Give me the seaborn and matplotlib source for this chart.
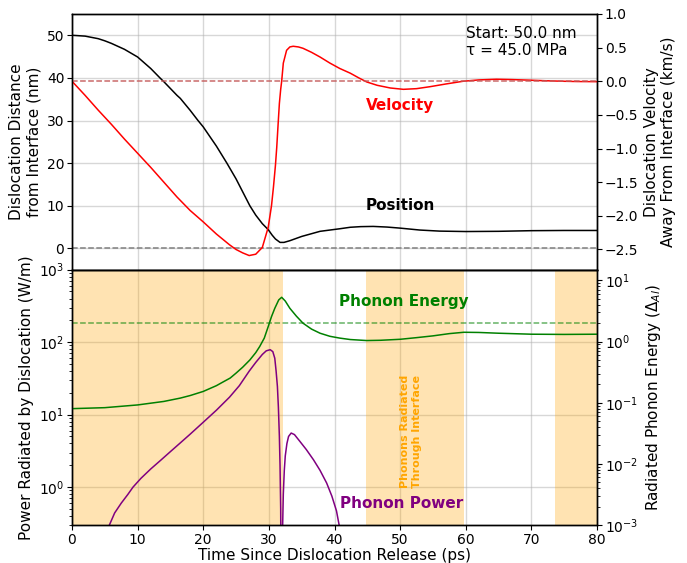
import numpy as np
import pandas as pd
import matplotlib
matplotlib.use("Agg")
import matplotlib.pyplot as plt
import seaborn as sns

# ---------------- data ----------------
pos_t = [0, 2, 4, 5, 6, 8, 10, 12, 13.4, 14, 16, 16.5, 18, 19.2, 20, 22, 23.6, 25, 27.1, 28, 29,
         29.9, 30.5, 31, 31.7, 32.3, 33.2, 35, 37.8, 40.8, 42.4, 44, 45.9, 48, 50, 53, 56, 60,
         65, 70, 75, 80]
pos_nm = [50, 49.8, 49.2, 48.7, 48.1, 46.7, 44.9, 42.2, 40.0, 39.1, 35.9, 35.2, 32.4, 30.0, 28.5,
          24.0, 20.0, 16.3, 10.0, 7.8, 5.8, 4.4, 3.1, 2.2, 1.4, 1.4, 1.8, 2.8, 4.0, 4.6, 4.95,
          5.1, 5.15, 5.0, 4.75, 4.3, 4.05, 3.95, 4.0, 4.15, 4.2, 4.2]

vel_t = [0, 2, 4, 6, 8, 10, 12, 14, 16, 18, 20, 22, 24, 25, 26, 27, 28, 29, 29.9, 30.4, 30.7,
         31.0, 31.2, 31.4, 31.6, 31.8, 31.95, 32.2, 32.7, 33.2, 33.7, 34.5, 35.2, 36.5, 37.8,
         39.3, 40.8, 42.4, 43.7, 44.9, 46.5, 48.5, 50.5, 52.5, 54.6, 57, 59.6, 62, 64.7, 67,
         69.8, 72, 74.9, 77, 80]
vel_kms = [0, -0.21, -0.43, -0.64, -0.86, -1.07, -1.28, -1.50, -1.72, -1.92, -2.09, -2.27, -2.43,
           -2.50, -2.55, -2.59, -2.57, -2.47, -2.17, -1.85, -1.57, -1.25, -0.98, -0.65, -0.33,
           -0.12, 0.0, 0.27, 0.46, 0.51, 0.52, 0.51, 0.49, 0.43, 0.36, 0.27, 0.19, 0.12, 0.05,
           -0.01, -0.06, -0.10, -0.12, -0.11, -0.08, -0.04, 0.0, 0.02, 0.03, 0.025, 0.016,
           0.008, 0.0, -0.004, -0.006]

en_t = [0, 5, 10, 14, 16.5, 18, 20, 22, 23, 24.1, 25, 26, 27.1, 28, 28.6, 29.3, 29.9, 30.4,
        30.9, 31.5, 31.95, 32.5, 33.2, 34.2, 35.2, 36.5, 37.8, 39.3, 40.8, 42.4, 44.9, 47, 50,
        52.5, 55, 57.5, 59.7, 62, 65, 70, 75, 80]
energy = [0.080, 0.083, 0.092, 0.105, 0.119, 0.131, 0.153, 0.19, 0.218, 0.253, 0.305, 0.38,
          0.50, 0.66, 0.83, 1.14, 1.76, 2.56, 3.5, 4.8, 5.3, 4.6, 3.5, 2.6, 2.0, 1.6, 1.37,
          1.22, 1.14, 1.08, 1.04, 1.05, 1.09, 1.16, 1.24, 1.35, 1.42, 1.41, 1.37, 1.32, 1.31,
          1.32]

pw_t = [4.5, 5.7, 6.5, 7.5, 8.5, 9.3, 10.5, 12, 13.5, 15, 16.5, 18, 20, 22, 24, 25.5, 27, 28,
        29, 29.6, 30.2, 30.6, 30.9, 31.1, 31.3, 31.45, 31.6, 31.7, 31.8, 31.95, 32.1, 32.2,
        32.35, 32.5, 32.75, 33.0, 33.4, 33.9, 34.7, 35.7, 36.8, 37.8, 38.8, 39.6, 40.3, 40.8,
        41.5]
power = [0.18, 0.30, 0.44, 0.60, 0.79, 1.0, 1.32, 1.78, 2.34, 3.09, 4.07, 5.37, 7.85, 11.5, 17.4,
         25.1, 39.8, 52.5, 67.6, 75.9, 78.7, 74, 60, 40, 24.5, 12.6, 5.0, 2.0, 0.5, 0.001, 0.3,
         0.8, 1.7, 2.7, 4.0, 5.0, 5.57, 5.3, 4.3, 3.3, 2.38, 1.7, 1.14, 0.75, 0.47, 0.27, 0.15]

spans = [(0, 32.1), (44.8, 59.7), (73.6, 80)]
e_ref = 2.0

# ---------------- style ----------------
sns.set_style("ticks")
plt.rcParams["font.family"] = ["DejaVu Sans"]
plt.rcParams.update({
    "axes.edgecolor": "black", "xtick.color": "black", "ytick.color": "black",
    "axes.labelcolor": "black", "text.color": "black", "axes.linewidth": 1.0,
    "font.size": 10, "axes.labelsize": 11,
    "xtick.major.pad": 2, "ytick.major.pad": 2,
})

fig = plt.figure(figsize=(6.87, 5.63), dpi=100)
ax1 = fig.add_axes([0.1048, 0.5210, 0.7642, 0.4542])
ax3 = fig.add_axes([0.1048, 0.0675, 0.7642, 0.4535], sharex=ax1)
ax2 = ax1.twinx()
ax4 = ax3.twinx()

grid_kw = dict(color="#b0b0b0", alpha=0.5, linewidth=1.0)
for a in (ax1, ax3):
    a.set_axisbelow(True)
    a.grid(True, which="major", **grid_kw)

# ---------------- top panel ----------------
sns.lineplot(x=pos_t, y=pos_nm, ax=ax1, color="black", linewidth=1.1)
ax1.axhline(0, color="gray", linestyle="--", linewidth=1.1)
sns.lineplot(x=vel_t, y=vel_kms, ax=ax2, color="red", linewidth=1.1)
ax2.axhline(0, color="#c45a5a", linestyle="--", linewidth=1.1, alpha=0.9)

ax1.set_xlim(0, 80)
ax1.set_ylim(-5, 55)
ax1.set_yticks([0, 10, 20, 30, 40, 50])
ax2.set_ylim(-2.8, 1.0)
ax2.set_yticks([-2.5, -2.0, -1.5, -1.0, -0.5, 0.0, 0.5, 1.0])
ax2.set_yticklabels(["\u22122.5", "\u22122.0", "\u22121.5", "\u22121.0", "\u22120.5", "0.0", "0.5", "1.0"])
ax1.tick_params(axis="x", bottom=False, labelbottom=False)
ax1.set_ylabel("Dislocation Distance\nfrom Interface (nm)")
ax2.set_ylabel("Dislocation Velocity\nAway From Interface (km/s)")
ax1.set_xlabel("")

ax1.text(60, 52.2, "Start: 50.0 nm\n\u03c4 = 45.0 MPa", ha="left", va="top", fontsize=11)
ax1.text(50, 33.6, "Velocity", color="red", fontweight="bold", fontsize=11, ha="center", va="center")
ax1.text(50, 10.0, "Position", color="black", fontweight="bold", fontsize=11, ha="center", va="center")

# ---------------- bottom panel ----------------
ax3.set_yscale("log")
ax4.set_yscale("log")
for a, b in spans:
    ax3.axvspan(a, b, color="orange", alpha=0.3, linewidth=0, zorder=0.6)

sns.lineplot(x=pw_t, y=power, ax=ax3, color="purple", linewidth=1.1)
sns.lineplot(x=en_t, y=energy, ax=ax4, color="green", linewidth=1.1)
ax4.axhline(e_ref, color="green", linestyle="--", linewidth=1.1, alpha=0.6)

ax3.set_ylim(0.3, 1000)
ax4.set_ylim(1e-3, 15)
ax3.set_xlim(0, 80)
ax3.set_xticks(range(0, 81, 10))
ax3.set_xlabel("Time Since Dislocation Release (ps)", labelpad=1)
ax3.set_ylabel("Power Radiated by Dislocation (W/m)")
ax4.set_ylabel("Radiated Phonon Energy ($\\Delta_{Al}$)")

ax3.text(50.5, 360, "Phonon Energy", color="green", fontweight="bold", fontsize=11, ha="center", va="center")
ax3.text(50.3, 0.59, "Phonon Power", color="purple", fontweight="bold", fontsize=11, ha="center", va="center")
ax3.text(51.7, 5.8, "Phonons Radiated\nThrough Interface", color="orange", fontweight="bold",
         fontsize=8, rotation=90, ha="center", va="center", multialignment="center")

for a in (ax1, ax2, ax3, ax4):
    for s in a.spines.values():
        s.set_visible(True)
        s.set_color("black")

fig.savefig("out.png", dpi=100)
